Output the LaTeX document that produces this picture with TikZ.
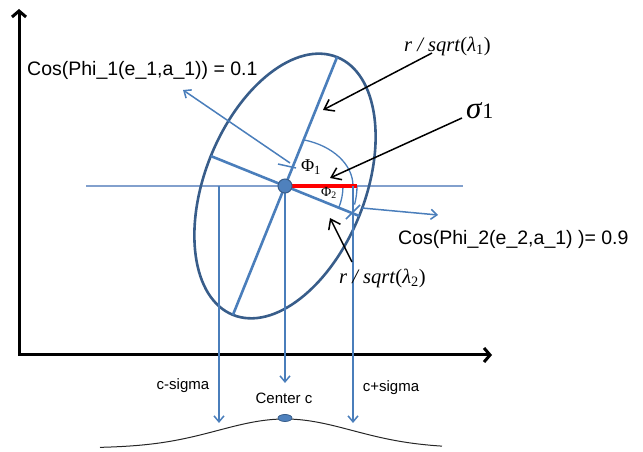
\documentclass[tikz,border=0pt]{standalone}
\usepackage{fontspec}
\setmainfont{Liberation Sans}
\newfontfamily\tms{Liberation Serif}
\usetikzlibrary{arrows.meta,calc,shapes.geometric}

\definecolor{ellblue}{RGB}{56,93,138}
\definecolor{axblue}{RGB}{74,126,187}
\definecolor{lineblue}{RGB}{130,160,205}
\definecolor{dotblue}{RGB}{79,129,189}

\begin{document}
\begin{tikzpicture}[x=1pt,y=1pt,
    plotaxis/.style={line width=3pt,line join=miter,
      {Straight Barb[length=6pt,width=14pt]}-{Straight Barb[length=6pt,width=14pt]}},
    eigen/.style={draw=axblue,line width=2.6pt},
    thinarc/.style={draw=axblue,line width=1.3pt},
    proj/.style={draw=axblue,line width=1.5pt,-{Straight Barb[length=6pt,width=10pt]}},
    pointer/.style={draw=black,line width=1.5pt,-{Straight Barb[length=9pt,width=13pt]}},
    sanslabel/.style={inner sep=0pt,font=\fontsize{19.5}{22}\selectfont},
    smalllabel/.style={inner sep=0pt,font=\fontsize{15}{17}\selectfont},
    mathlabel/.style={inner sep=0pt,font=\tms\fontsize{20.5}{22}\selectfont}]

\useasboundingbox (0,0) rectangle (643,452);

% axes
\coordinate (origin) at (19,97);
\coordinate (ytop) at (19,443);
\coordinate (xend) at (492,97);
\draw[plotaxis] (ytop) -- (origin) -- (xend);

% centre and horizontal reference line
\coordinate (O) at (285,266);
\coordinate (hl) at (86,266);
\coordinate (hr) at (463,266);
\draw[lineblue,line width=1.2pt] (hl) -- (hr);

% ellipse with its two axes
\draw[ellblue,line width=2.6pt,rotate around={68:(O)}] (O) ellipse [x radius=139,y radius=80];
\coordinate (e1top) at ($(O)+(68:139)$);
\coordinate (e1bot) at ($(O)+(248:139)$);
\coordinate (e2left) at ($(O)+(158:80)$);
\coordinate (e2right) at ($(O)+(-22:80)$);
\draw[eigen] (e1top) -- (e1bot);
\draw[eigen] (e2left) -- (e2right);

% angle arcs
\coordinate (rend) at (357,266);
\draw[thinarc] ($(O)+(74:68 and 48)$) arc (74:0:68 and 48);
\draw[thinarc] ($(O)+(0:58)$) arc (0:-22:58);
\draw[thinarc] (rend) arc (0:-15:72);
\draw[red,line width=3.5pt] (O) -- (rend);

% tick marks
\coordinate (k1a) at (278,288);
\coordinate (k1b) at (296,284);
\coordinate (k2a) at ($(353,240)+(225:10)$);
\coordinate (k2b) at ($(353,240)+(45:10)$);
\draw[axblue,line width=1.5pt] (k1a) -- (k1b);
\draw[axblue,line width=1.5pt] (k2a) -- (k2b);

% direction arrows
\coordinate (t1) at (290,289);
\coordinate (h1) at (183,362);
\coordinate (t2) at (362,244);
\coordinate (h2) at (438,237);
\draw[proj] (t1) -- (h1);
\draw[proj] (t2) -- (h2);

% projections onto the axis
\coordinate (ls) at (219,266);
\coordinate (lse) at (219,29);
\coordinate (ce) at (285,69);
\coordinate (rs) at (353,266);
\coordinate (rse) at (353,29);
\draw[proj] (ls) -- (lse);
\draw[proj] (O) -- (ce);
\draw[proj] (rs) -- (rse);

\node[circle,fill=dotblue,draw=ellblue,line width=1pt,minimum size=14pt,inner sep=0pt] (dot) at (O) {};

% bell curve
\draw[black!85,line width=1pt] plot[domain=100:442,samples=90,smooth]
    (\x,{4+29*exp(-0.5*((\x-285)/67)*((\x-285)/67))});
\node[ellipse,fill=dotblue,draw=ellblue,line width=0.8pt,minimum width=14pt,minimum height=7pt,inner sep=0pt] (peak) at (285,34) {};

% labels
\node[sanslabel,anchor=west] (cos1) at (27,382) {Cos(Phi\_1(e\_1,a\_1)) = 0.1};
\node[sanslabel,anchor=west] (cos2) at (398,213) {Cos(Phi\_2(e\_2,a\_1) )= 0.9};
\node[mathlabel,anchor=west] (lam1) at (404,406) {\textit{r / sqrt}(\textit{λ}\textsubscript{1})};
\node[mathlabel,anchor=west] (lam2) at (339,174) {\textit{r / sqrt}(\textit{λ}\textsubscript{2})};
\node[inner sep=0pt,anchor=west] (sig) at (466,341)
    {\tms\fontsize{31}{32}\selectfont\textit{σ}\fontsize{22}{23}\selectfont 1};
\node[inner sep=0pt,font=\tms\fontsize{18}{19}\selectfont] (phi1) at (311,285) {Φ\textsubscript{1}};
\node[inner sep=0pt,font=\tms\fontsize{14}{15}\selectfont] (phi2) at (329,259) {Φ\textsubscript{2}};
\node[smalllabel] (lsig) at (183,66) {c-sigma};
\node[smalllabel] (cc) at (284,54) {Center c};
\node[smalllabel] (rsig) at (391,64) {c+sigma};

% pointers to the labels
\coordinate (p1) at (432,399);
\coordinate (q1) at (323,342);
\coordinate (p2) at (462,334);
\coordinate (q2) at (330,274);
\coordinate (p3) at (352,190);
\coordinate (q3) at (330,234);
\draw[pointer] (p1) -- (q1);
\draw[pointer] (p2) -- (q2);
\draw[pointer] (p3) -- (q3);

\end{tikzpicture}
\end{document}
